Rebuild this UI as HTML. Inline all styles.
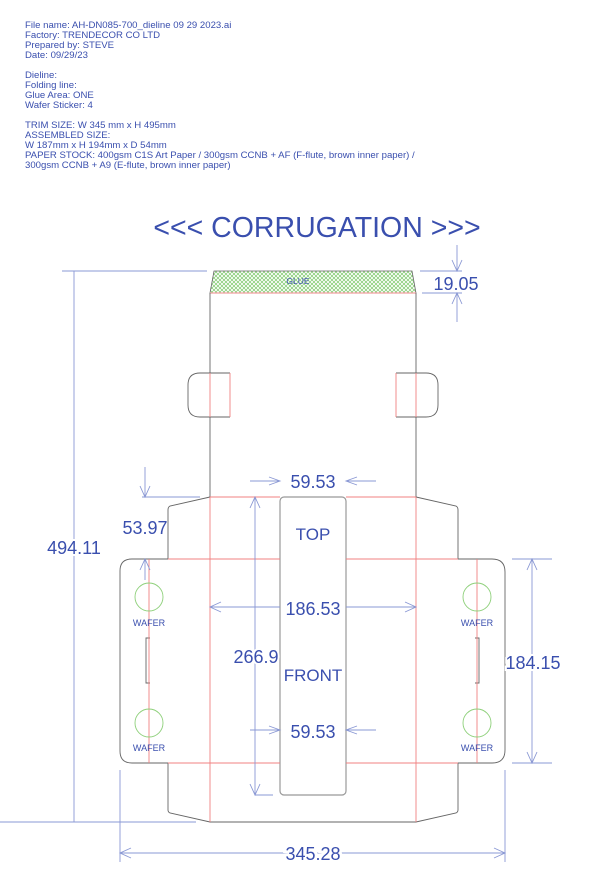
<!DOCTYPE html>
<html><head><meta charset="utf-8"><style>
html,body{margin:0;padding:0;background:#fff;width:600px;height:885px;overflow:hidden}
svg{display:block}
text{font-family:"Liberation Sans",Arial,sans-serif;fill:#3a4fae}
</style></head><body>
<svg width="600" height="885" viewBox="0 0 600 885" xmlns="http://www.w3.org/2000/svg">
<defs>
<pattern id="hx" width="4" height="4" patternUnits="userSpaceOnUse">
<path d="M0 0L4 4M4 0L0 4" stroke="#7cc86a" stroke-width="0.7"/>
</pattern>
</defs>
<g font-size="9.6">
<text x="25" y="28">File name: AH-DN085-700_dieline 09 29 2023.ai</text>
<text x="25" y="38">Factory: TRENDECOR CO LTD</text>
<text x="25" y="48">Prepared by: STEVE</text>
<text x="25" y="58">Date: 09/29/23</text>
<text x="25" y="78">Dieline:</text>
<text x="25" y="88">Folding line:</text>
<text x="25" y="98">Glue Area: ONE</text>
<text x="25" y="108">Wafer Sticker: 4</text>
<text x="25" y="128">TRIM SIZE: W 345 mm x H 495mm</text>
<text x="25" y="138">ASSEMBLED SIZE:</text>
<text x="25" y="148">W 187mm x H 194mm x D 54mm</text>
<text x="25" y="158">PAPER STOCK: 400gsm C1S Art Paper / 300gsm CCNB + AF (F-flute, brown inner paper) /</text>
<text x="25" y="168">300gsm CCNB + A9 (E-flute, brown inner paper)</text>
</g>
<text x="317" y="237" font-size="28.5" text-anchor="middle">&lt;&lt;&lt; CORRUGATION &gt;&gt;&gt;</text>

<path d="M214 271L412 271L416 293L210 293Z" fill="url(#hx)" stroke="#666" stroke-width="0.8"/>
<text x="298" y="284" font-size="8.5" text-anchor="middle">GLUE</text>
<line x1="210" y1="293" x2="416" y2="293" stroke="#f0a0a0" stroke-width="1.2"/>

<g fill="none" stroke="#666" stroke-width="0.9">
<path d="M210 293V373M210 417V497M416 293V373M416 417V497"/>
<path d="M230 373H200Q188 373 188 385V405Q188 417 200 417H230"/>
<path d="M396 373H426Q438 373 438 385V405Q438 417 426 417H396"/>
<path d="M210 497L170 506Q168 507 168 510V559"/>
<path d="M416 497L456 506Q458 507 458 510V559"/>
<path d="M168 559H132Q120 559 120 571V751Q120 763 132 763H168"/>
<path d="M458 559H492Q505 559 505 572V750Q505 763 492 763H458"/>
<path d="M150 638H146V683H150"/>
<path d="M475 638H479V683H475"/>
<path d="M168 763V810Q168 812 170 813L210 822H416L456 813Q458 812 458 810V763"/>
<rect x="280" y="497" width="66" height="298" rx="4" stroke="#999" stroke-width="1.2"/>
</g>
<g stroke="#f08080" stroke-width="0.9" fill="none">
<path d="M230 373V417M396 373V417"/>
<path d="M210 373V417M416 373V417"/>
<path d="M210 497H280M346 497H416"/>
<path d="M210 497V822M416 497V822"/>
<path d="M168 559H280M346 559H458M168 763H280M346 763H458"/>
<path d="M149 559V763M477 559V763"/>
</g>
<g fill="none" stroke="#8ed07a" stroke-width="0.9">
<circle cx="149" cy="597" r="14"/><circle cx="149" cy="723" r="14"/>
<circle cx="477" cy="597" r="14"/><circle cx="477" cy="723" r="14"/>
</g>
<g font-size="9" text-anchor="middle">
<text x="149" y="626">WAFER</text><text x="149" y="751">WAFER</text>
<text x="477" y="626">WAFER</text><text x="477" y="751">WAFER</text>
</g>
<text x="313" y="540" font-size="17" text-anchor="middle">TOP</text>
<text x="313" y="681" font-size="17" text-anchor="middle">FRONT</text>

<g stroke="#8a98d4" stroke-width="0.9" fill="none">
<path d="M62 271H207M0 822H196M74 271V822"/>
<path d="M420 271H462M422 293H462M457 245V271M457 293V322"/>
<path d="M452 260L457 271L462 260M452 304L457 293L462 304"/>
<path d="M145 467V497M142 497H200M140 486L145 497L150 486M145 559V580M140 570L145 559L150 570"/>
<path d="M255 497V795M255 795H273M250 508L255 497L260 508M250 784L255 795L260 784"/>
<path d="M210 607H280M346 607H416M221 602L210 607L221 612M405 602L416 607L405 612"/>
<path d="M250 481H280M346 481H376M269 477L280 481L269 485M357 477L346 481L357 485"/>
<path d="M250 730H280M346 730H376M269 726L280 730L269 734M357 726L346 730L357 734"/>
<path d="M512 559H552M512 763H552M532 559V763M527 570L532 559L537 570M527 752L532 763L537 752"/>
<path d="M120 770V862M505 770V862M120 853H505M131 848L120 853L131 858M494 848L505 853L494 858"/>
</g>
<g font-size="18" text-anchor="middle">
<rect x="284" y="470" width="60" height="22" fill="#fff"/>
<text x="313" y="488">59.53</text>
<rect x="281" y="597" width="64" height="22" fill="#fff"/>
<text x="313" y="615">186.53</text>
<rect x="284" y="720" width="60" height="22" fill="#fff"/>
<text x="313" y="738">59.53</text>
<text x="256" y="663" style="paint-order:stroke" stroke="#fff" stroke-width="4">266.9</text>
<text x="74" y="554" style="paint-order:stroke" stroke="#fff" stroke-width="4">494.11</text>
<text x="145" y="534">53.97</text>
<text x="456" y="290" style="paint-order:stroke" stroke="#fff" stroke-width="4">19.05</text>
<text x="533" y="669" style="paint-order:stroke" stroke="#fff" stroke-width="4">184.15</text>
<text x="313" y="860" style="paint-order:stroke" stroke="#fff" stroke-width="6">345.28</text>
</g>
</svg>
</body></html>
